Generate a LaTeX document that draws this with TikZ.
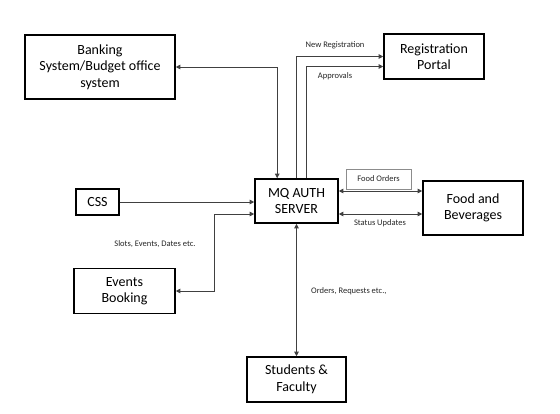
\documentclass[tikz,border=0pt]{standalone}
\usepackage{fontspec}
\setmainfont{Carlito}
\usetikzlibrary{positioning, arrows.meta, calc}

\begin{document}
\begin{tikzpicture}[
    x=1pt, y=-1pt,
    block/.style={
      rectangle, draw=black, line width=1.6pt,
      align=center, inner sep=2pt,
      font=\fontsize{14}{16.5}\selectfont,
    },
    conn/.style={draw=black!75, line width=0.8pt},
    onetip/.style={conn, -{Triangle[length=4.5pt, width=4.5pt]}},
    twotip/.style={conn, {Triangle[length=4.5pt, width=4.5pt]}-{Triangle[length=4.5pt, width=4.5pt]}},
    lbl/.style={font=\fontsize{8.5}{10}\selectfont, text=black!85, inner sep=1pt},
]
\useasboundingbox (0,0) rectangle (560,413);

\node[block, minimum width=150pt, minimum height=64pt] (bank)     at (100,67)    {Banking\\System/Budget office\\system};
\node[block, minimum width=100pt, minimum height=45pt] (reg)      at (434,56.5)  {Registration\\Portal};
\node[block, minimum width=83pt,  minimum height=44pt] (mq)       at (296.5,201) {MQ AUTH\\SERVER};
\node[block, minimum width=43pt,  minimum height=26pt] (css)      at (97.5,202)  {CSS};
\node[block, minimum width=101pt, minimum height=45pt] (events)   at (124.5,291) {Events\\Booking};
\node[block, minimum width=100pt, minimum height=54pt] (food)     at (473,208)   {Food and\\Beverages};
\node[block, minimum width=99pt,  minimum height=45pt] (students) at (296.5,379.5) {Students \&\\Faculty};

% banking link
\draw[twotip] ($(mq.north west)+(23,0)$) |- (bank.east);

% registration links
\draw[onetip] ($(mq.north west)+(42,0)$) |- (reg.west);
\draw[onetip] ($(mq.north west)+(52,0)$) |- ($(reg.west)+(0,10)$);
\node[lbl] (newreg) at (335,45) {New Registration};
\node[lbl] (appr)   at (335,76) {Approvals};

% css and events
\draw[onetip] (css.east) -- (css.east -| mq.west);
\draw[twotip] (events.east) -| ($(mq.west)+(-40,13)$) -- ($(mq.west)+(0,13)$);
\node[lbl] (slots) at (155,244) {Slots, Events, Dates etc.};

% food and beverages
\coordinate (fo) at ($(mq.east)+(0,-10)$);
\coordinate (su) at ($(mq.east)+(0,13)$);
\draw[twotip] (fo) -- (fo -| food.west);
\draw[twotip] (su) -- (su -| food.west);
\node[lbl, draw=black!45, line width=0.8pt, minimum width=65pt, minimum height=20pt] (forders) at (378.5,179) {Food Orders};
\node[lbl] (status) at (380,223.5) {Status Updates};

% students
\draw[twotip] (mq.south) -- (students.north);
\node[lbl, anchor=west] (orders) at (310,291) {Orders, Requests etc.,};
\end{tikzpicture}
\end{document}
